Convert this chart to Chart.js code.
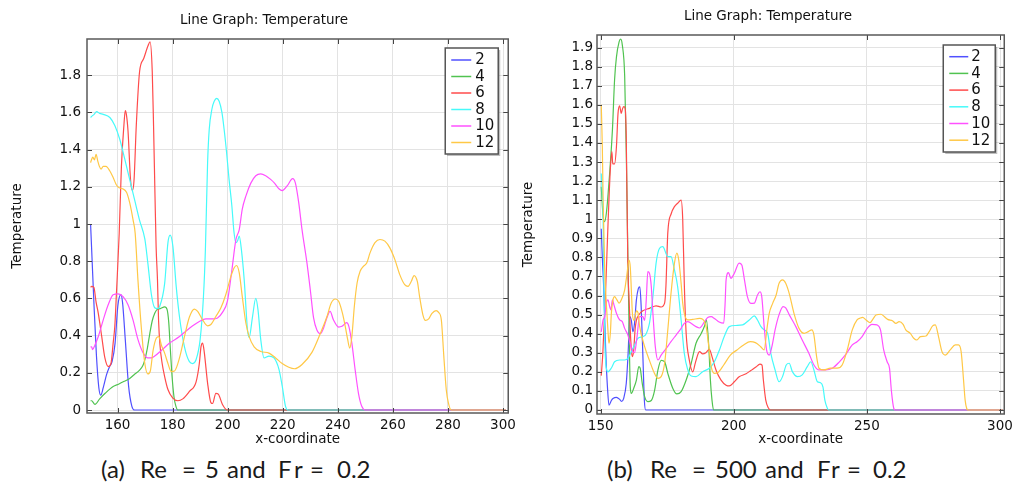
<!DOCTYPE html>
<html><head><meta charset="utf-8">
<script src="https://cdn.jsdelivr.net/npm/chart.js@4.4.1/dist/chart.umd.min.js"></script>
<style>
html,body{margin:0;padding:0;background:#fff;width:1017px;height:484px;overflow:hidden;}
canvas{position:absolute;top:0;}
#c1{left:0}
#c2{left:520px}
.cap{position:absolute;top:457px;font-family:Lato,'Open Sans',sans-serif;font-size:24px;line-height:24px;color:#1a1a1a;white-space:pre;}
</style></head><body>
<canvas id="c1" width="520" height="450"></canvas>
<canvas id="c2" width="497" height="450"></canvas>
<span class="cap" style="left:101px">(a)</span>
<span class="cap" style="left:140px">Re</span>
<span class="cap" style="left:182px">=</span>
<span class="cap" style="left:205px">5</span>
<span class="cap" style="left:227px">and</span>
<span class="cap" style="left:278px">F</span>
<span class="cap" style="left:294px">r</span>
<span class="cap" style="left:310px">=</span>
<span class="cap" style="left:337px">0.2</span>
<span class="cap" style="left:607px">(b)</span>
<span class="cap" style="left:650px">Re</span>
<span class="cap" style="left:692px">=</span>
<span class="cap" style="left:715px">500</span>
<span class="cap" style="left:765px">and</span>
<span class="cap" style="left:817px">F</span>
<span class="cap" style="left:831px">r</span>
<span class="cap" style="left:847px">=</span>
<span class="cap" style="left:873px">0.2</span>
<script>
// ---------- data ----------
const seriesLabels = ['2','4','6','8','10','12'];
const titleText = 'Line Graph: Temperature';
const xTitleText = 'x-coordinate';
const yTitleText = 'Temperature';

const leftXTicks = [160,180,200,220,240,260,280,300];
const leftXLabels = ['160','180','200','220','240','260','280','300'];
const leftYTicks = [0,0.2,0.4,0.6,0.8,1,1.2,1.4,1.6,1.8];
const leftYLabels = ['0','0.2','0.4','0.6','0.8','1','1.2','1.4','1.6','1.8'];
const rightXTicks = [150,200,250,300];
const rightXLabels = ['150','200','250','300'];
const rightYTicks = [0,0.1,0.2,0.3,0.4,0.5,0.6,0.7,0.8,0.9,1,1.1,1.2,1.3,1.4,1.5,1.6,1.7,1.8,1.9];
const rightYLabels = ['0','0.1','0.2','0.3','0.4','0.5','0.6','0.7','0.8','0.9','1','1.1','1.2','1.3','1.4','1.5','1.6','1.7','1.8','1.9'];

// (a) Re = 5
const a2 = [[150.2,1.0],[150.6,0.86],[151.4,0.58],[152.3,0.3],[153.2,0.12],[153.9,0.08],[154.8,0.12],[156,0.19],[157,0.23],[158,0.26],[159.1,0.36],[160.1,0.56],[161.2,0.62],[161.8,0.58],[162.8,0.38],[164,0.13],[165.2,0.02],[166.2,0],[301,0]];
const a4 = [[150.2,0.05],[150.6,0.05],[151.8,0.03],[153.5,0.06],[155.5,0.09],[158.4,0.126],[160.5,0.14],[162.5,0.155],[164.4,0.17],[166,0.19],[168,0.215],[169.2,0.24],[169.9,0.27],[170.8,0.33],[171.7,0.41],[172.6,0.48],[173.5,0.52],[174.3,0.54],[175.5,0.545],[177.1,0.555],[178,0.54],[178.6,0.47],[179.2,0.32],[179.8,0.18],[180.5,0.07],[181.2,0.02],[181.9,0],[301,0]];
const a6 = [[150.2,0.66],[150.6,0.665],[151.4,0.66],[152.2,0.58],[153,0.52],[154.2,0.4],[155.4,0.28],[156.6,0.234],[157.6,0.25],[158.4,0.36],[159,0.45],[159.6,0.63],[160.6,0.95],[161.4,1.31],[162.3,1.53],[162.8,1.61],[163.2,1.59],[163.8,1.5],[164.7,1.24],[165.4,1.18],[166,1.24],[166.8,1.53],[168,1.82],[169.5,1.89],[171.1,1.96],[171.8,1.98],[172.6,1.82],[173.1,1.51],[173.6,1.15],[174,0.88],[174.5,0.7],[174.9,0.48],[175.4,0.35],[176.2,0.25],[177.1,0.18],[178.3,0.11],[180,0.065],[181.9,0.05],[183.7,0.06],[186.1,0.1],[188.5,0.15],[189.7,0.25],[190.3,0.34],[190.9,0.36],[191.5,0.31],[192.7,0.145],[193.9,0.04],[194.5,0.035],[195.7,0.09],[196.6,0.085],[198.1,0.03],[199.9,0],[301,0]];
const a8 = [[150.2,1.573],[150.6,1.579],[151.5,1.59],[152.4,1.604],[153.5,1.595],[154.8,1.59],[157.2,1.573],[159,1.53],[160.8,1.456],[162.6,1.35],[164.4,1.24],[166.2,1.13],[168,1.02],[169.9,0.92],[171,0.79],[172.3,0.62],[173.5,0.55],[174.5,0.545],[175.3,0.557],[177.1,0.68],[178.3,0.9],[179.1,0.94],[180.1,0.88],[181.3,0.665],[182.5,0.5],[184.3,0.34],[186.1,0.26],[187.3,0.25],[188.5,0.27],[190,0.38],[191.2,0.61],[191.9,0.86],[192.7,1.33],[193.3,1.51],[194.3,1.62],[195.1,1.66],[196,1.676],[196.9,1.66],[197.9,1.6],[198.7,1.51],[199.6,1.385],[200.5,1.24],[201.5,1.1],[202.3,0.955],[203,0.9],[203.6,0.91],[204.2,0.935],[205,0.86],[206,0.7],[207.2,0.43],[207.8,0.39],[209,0.5],[210.2,0.6],[211,0.54],[212,0.38],[213.2,0.28],[215,0.29],[216.8,0.28],[218.6,0.22],[219.8,0.13],[221,0.02],[222,0],[301,0]];
const a10 = [[150.2,0.34],[150.6,0.34],[150.9,0.325],[151.8,0.35],[153,0.395],[154.8,0.485],[156.6,0.566],[158.4,0.62],[160.2,0.625],[162,0.61],[163.8,0.566],[165.6,0.485],[167.4,0.38],[169.2,0.31],[171,0.28],[172.2,0.28],[173.5,0.29],[175.9,0.32],[178.9,0.36],[182.5,0.395],[186.1,0.44],[189.7,0.476],[192.1,0.49],[194.5,0.49],[196.3,0.495],[198.1,0.525],[199.9,0.585],[201.5,0.75],[203,0.917],[204.2,0.97],[205.3,1.08],[206.6,1.15],[208.4,1.22],[210.2,1.26],[212,1.27],[213.8,1.26],[215.6,1.24],[217,1.22],[218.6,1.19],[219.8,1.18],[221.6,1.205],[223.6,1.244],[224.6,1.22],[225.8,1.115],[227,0.97],[228.8,0.79],[230,0.647],[231.2,0.495],[232.4,0.43],[233.6,0.41],[234.8,0.44],[236,0.495],[237.2,0.53],[238.4,0.485],[240.3,0.446],[241.5,0.45],[243.2,0.47],[244,0.45],[245.1,0.36],[246.3,0.216],[247.5,0.09],[248.7,0.02],[250,0],[301,0]];
const a12 = [[150.2,1.33],[150.4,1.34],[151,1.36],[151.6,1.345],[152.2,1.375],[152.8,1.34],[153.4,1.31],[154,1.295],[154.8,1.31],[155.8,1.31],[157.2,1.285],[158.4,1.25],[159.6,1.21],[160.6,1.195],[161.8,1.19],[163.3,1.17],[164.4,1.115],[165.6,1.025],[166.4,0.95],[167.4,0.7],[168.7,0.43],[169.9,0.25],[171,0.194],[171.9,0.21],[172.9,0.32],[174.1,0.387],[175,0.395],[175.9,0.35],[177.1,0.306],[178.3,0.25],[179.5,0.207],[180.7,0.21],[182.5,0.28],[184.3,0.395],[186.1,0.5],[187.9,0.543],[189.1,0.53],[190.9,0.485],[192.7,0.453],[193.9,0.46],[195.7,0.503],[197.5,0.548],[199.3,0.62],[201.2,0.72],[202.3,0.764],[203.2,0.777],[204.2,0.737],[205.3,0.61],[206.6,0.468],[207.8,0.395],[209.6,0.34],[212,0.315],[215,0.306],[217.4,0.28],[219.8,0.25],[222.2,0.23],[224.3,0.222],[227,0.245],[230.6,0.31],[233.6,0.41],[236,0.5],[237.6,0.575],[239.1,0.597],[240.3,0.585],[241.7,0.52],[242.7,0.45],[243.6,0.378],[244.3,0.333],[245.1,0.395],[246,0.557],[247,0.683],[248.1,0.746],[249.3,0.773],[250.5,0.79],[251.7,0.845],[253.5,0.9],[255.3,0.917],[257.1,0.908],[258.9,0.872],[260.7,0.81],[262.5,0.728],[264.3,0.674],[265.5,0.665],[266.7,0.692],[267.7,0.723],[268.9,0.69],[269.7,0.61],[270.9,0.512],[271.8,0.482],[273,0.49],[274.2,0.52],[275.7,0.535],[276.6,0.525],[277.6,0.485],[278.5,0.29],[279.4,0.108],[280.2,0.036],[281.2,0],[301,0]];

// (b) Re = 500
const b2 = [[150.2,0.95],[150.6,0.8],[151.1,0.647],[151.9,0.3],[152.5,0.126],[153.1,0.025],[154,0.05],[154.6,0.06],[155.9,0.066],[157.1,0.056],[157.8,0.045],[158.6,0.06],[159.6,0.14],[160.3,0.3],[160.9,0.49],[161.5,0.47],[162.1,0.41],[162.7,0.455],[163.4,0.577],[164.1,0.635],[164.7,0.645],[165.2,0.54],[165.8,0.3],[166.4,0.05],[166.9,0],[301,0]];
const b4 = [[150.2,1.17],[150.9,1.014],[151.5,0.988],[152.1,1.03],[152.7,1.12],[154.4,1.47],[155.2,1.73],[155.9,1.85],[156.9,1.93],[157.5,1.944],[158.1,1.914],[159,1.75],[159.6,1.35],[160.2,0.8],[160.6,0.47],[161.1,0.12],[161.5,0.087],[162.4,0.114],[163.4,0.157],[164.3,0.227],[164.8,0.22],[165.6,0.14],[166.5,0.07],[167.7,0.044],[169,0.05],[170.2,0.1],[171.5,0.21],[172.7,0.26],[174,0.253],[175.2,0.192],[177.1,0.113],[178.6,0.084],[180.2,0.096],[182.1,0.157],[184,0.245],[185.8,0.35],[187.7,0.4],[189,0.44],[189.7,0.472],[190.6,0.33],[191.2,0.157],[191.8,0.052],[192.4,0],[301,0]];
const b6 = [[150.2,0.18],[150.8,0.3],[151.9,0.65],[152.7,0.96],[153.6,1.26],[154.2,1.355],[154.5,1.29],[155.2,1.29],[155.9,1.38],[156.5,1.555],[157.1,1.594],[157.7,1.555],[158.2,1.58],[158.7,1.59],[159.2,1.58],[159.6,1.42],[160.2,0.75],[160.6,0.6],[161.1,0.42],[161.5,0.315],[161.9,0.28],[162.4,0.315],[162.9,0.42],[163.4,0.47],[164.3,0.498],[165.8,0.52],[168.3,0.533],[170.8,0.546],[172.7,0.54],[174,0.56],[174.5,0.65],[175.2,0.93],[176.5,1.03],[177.7,1.066],[178.9,1.084],[180.2,1.1],[180.8,1.0],[181.4,0.66],[182.1,0.4],[183.3,0.26],[184.6,0.2],[185.6,0.25],[187.1,0.306],[188.3,0.294],[189.5,0.3],[190.8,0.318],[191.8,0.28],[193.3,0.21],[195.2,0.157],[197.1,0.13],[198.3,0.126],[200.2,0.148],[202,0.174],[204.6,0.19],[206.4,0.207],[208.3,0.225],[209.8,0.24],[210.6,0.235],[211.1,0.157],[212,0.052],[213,0.01],[213.8,0],[301,0]];
const b8 = [[150.2,1.24],[150.6,1.135],[150.9,1.0],[151.2,0.65],[151.6,0.33],[152.1,0.22],[152.7,0.2],[154,0.22],[155.2,0.253],[157.1,0.262],[159,0.262],[160.2,0.27],[161.5,0.306],[162.7,0.34],[164,0.376],[165.8,0.384],[167.1,0.4],[168.3,0.454],[169.6,0.594],[170.8,0.77],[172.1,0.848],[173.3,0.857],[175.2,0.804],[176.4,0.804],[177.7,0.734],[178.9,0.646],[180.2,0.472],[181.4,0.297],[182.7,0.21],[184,0.178],[185.8,0.175],[188.3,0.201],[190.8,0.219],[192.7,0.253],[194.6,0.315],[196.4,0.385],[198.3,0.437],[200.8,0.443],[203.3,0.446],[205.8,0.472],[207.7,0.493],[208.9,0.472],[210.2,0.437],[211.4,0.42],[212.7,0.402],[213.9,0.297],[215.5,0.21],[217,0.148],[218.3,0.175],[219.7,0.236],[220.8,0.245],[222,0.201],[223.9,0.175],[225.7,0.184],[227.6,0.227],[228.9,0.253],[230.1,0.21],[231.4,0.148],[232.6,0.143],[233.5,0.12],[234.2,0.052],[235.1,0.01],[235.6,0],[301,0]];
const b10 = [[150.2,0.41],[150.9,0.472],[151.5,0.49],[152.1,0.56],[152.7,0.577],[153.4,0.54],[153.8,0.525],[154.4,0.577],[155,0.55],[155.9,0.507],[157.1,0.472],[158.1,0.463],[159,0.428],[160.2,0.393],[161.2,0.341],[162.1,0.306],[162.7,0.3],[163.6,0.38],[164.6,0.49],[165.8,0.49],[166.5,0.47],[167.1,0.577],[167.7,0.725],[168.3,0.717],[169,0.646],[169.6,0.507],[170.5,0.332],[171.5,0.262],[172.7,0.288],[174.6,0.323],[176.4,0.358],[178.3,0.393],[180.2,0.428],[181.4,0.454],[182.7,0.463],[184,0.454],[185.8,0.437],[187.1,0.43],[189,0.463],[190.2,0.485],[191.5,0.489],[192.7,0.48],[194.3,0.463],[196.2,0.455],[196.7,0.55],[197.1,0.682],[198,0.72],[198.9,0.69],[200.2,0.717],[202,0.77],[203,0.76],[204,0.682],[205.1,0.594],[206.4,0.559],[207.7,0.56],[208.9,0.603],[209.8,0.62],[210.5,0.594],[211.4,0.437],[212.3,0.315],[213.3,0.288],[214.3,0.332],[215.5,0.42],[217,0.5],[218.5,0.542],[219.5,0.535],[220.8,0.5],[223.3,0.437],[225.7,0.367],[228.2,0.297],[230.1,0.236],[232,0.21],[234.5,0.21],[237,0.219],[239.5,0.25],[242,0.29],[244.5,0.341],[246.3,0.358],[248.2,0.385],[250.1,0.428],[251.9,0.449],[253.8,0.446],[255.1,0.42],[256.3,0.315],[257.6,0.253],[258.5,0.218],[259.2,0.1],[260.1,0.008],[260.6,0],[301,0]];
const b12 = [[150.2,1.6],[150.6,1.38],[150.9,1.1],[151.5,0.734],[152.1,0.56],[152.7,0.42],[153.1,0.35],[153.6,0.4],[154,0.507],[154.6,0.577],[155.2,0.594],[156.1,0.577],[156.9,0.56],[157.7,0.577],[159,0.63],[159.9,0.717],[160.6,0.786],[161.1,0.75],[161.5,0.63],[161.9,0.507],[162.5,0.47],[163.4,0.52],[164,0.51],[164.6,0.44],[166.5,0.332],[168.3,0.26],[170.2,0.192],[171.5,0.166],[172.7,0.175],[174,0.245],[175.2,0.42],[176.4,0.611],[177.7,0.77],[178.6,0.822],[179.3,0.787],[180.2,0.664],[180.8,0.56],[181.4,0.507],[182.7,0.472],[184.6,0.475],[187.1,0.48],[188.3,0.476],[189.6,0.437],[190.6,0.332],[191.5,0.227],[192.7,0.192],[194,0.196],[196.2,0.236],[198.7,0.288],[201.2,0.315],[203.7,0.341],[206.2,0.358],[208.1,0.353],[210.1,0.332],[211.4,0.315],[212.4,0.42],[213.3,0.507],[214.6,0.559],[215.9,0.603],[217,0.664],[218.3,0.682],[219.5,0.664],[220.8,0.611],[222.6,0.507],[224.5,0.428],[226.4,0.402],[228,0.411],[229.3,0.42],[230.1,0.393],[231.1,0.28],[232,0.219],[233.8,0.21],[236.3,0.219],[238.8,0.219],[240.7,0.236],[242.6,0.315],[244.5,0.42],[246.3,0.472],[247.5,0.482],[248.4,0.486],[249.7,0.472],[251.2,0.458],[252.2,0.475],[253.4,0.498],[255.3,0.502],[256.5,0.49],[257.8,0.475],[259.6,0.468],[260.9,0.454],[262.1,0.463],[263.6,0.449],[264.6,0.42],[266.3,0.402],[267.6,0.376],[268.8,0.367],[270.1,0.385],[272.2,0.388],[273.4,0.411],[274.7,0.441],[275.7,0.446],[276.9,0.385],[278.2,0.306],[279.4,0.288],[281.3,0.315],[283.2,0.341],[284.4,0.341],[285.4,0.306],[286.3,0.158],[286.9,0.052],[287.5,0.008],[288,0],[301,0]];

// ---------- styling ----------
const colors = ['rgb(80,80,255)','rgb(80,195,80)','rgb(255,75,75)','rgb(70,250,250)','rgb(255,80,255)','rgb(255,200,70)'];
const FONT = "'DejaVu Sans', sans-serif";

const framePlugin = {
  id: 'frame',
  afterDatasetsDraw(chart, args, o) {
    const ctx = chart.ctx, a = chart.chartArea, xs = chart.scales.x, ys = chart.scales.y;
    ctx.save();
    ctx.strokeStyle = '#444'; ctx.lineWidth = 1;
    ctx.beginPath();
    xs.ticks.forEach(t => { const p = Math.round(xs.getPixelForValue(t.value)) + 0.5;
      ctx.moveTo(p, a.bottom); ctx.lineTo(p, a.bottom - 5); ctx.moveTo(p, a.top); ctx.lineTo(p, a.top + 5); });
    ys.ticks.forEach(t => { const p = Math.round(ys.getPixelForValue(t.value)) + 0.5;
      ctx.moveTo(a.left, p); ctx.lineTo(a.left + 5, p); ctx.moveTo(a.right, p); ctx.lineTo(a.right - 5, p); });
    ctx.stroke();
    ctx.strokeStyle = '#5a5a5a'; ctx.lineWidth = 1.5;
    ctx.strokeRect(a.left, a.top, a.right - a.left, a.bottom - a.top);
    // legend
    const L = o.legend;
    const bx = a.right - L.inset - L.w, by = a.top + L.top;
    ctx.fillStyle = 'rgba(0,0,0,0.25)';
    ctx.fillRect(bx + 2, by + 2, L.w, L.h);
    ctx.fillStyle = '#fff';
    ctx.fillRect(bx, by, L.w, L.h);
    ctx.strokeStyle = '#555'; ctx.lineWidth = 1.5;
    ctx.strokeRect(bx, by, L.w, L.h);
    ctx.font = '15px ' + FONT; ctx.textBaseline = 'middle'; ctx.textAlign = 'left';
    chart.data.datasets.forEach((d, i) => {
      const yy = by + L.first + i * L.step;
      ctx.strokeStyle = d.borderColor; ctx.lineWidth = 1.5;
      ctx.beginPath(); ctx.moveTo(bx + L.lx1, yy); ctx.lineTo(bx + L.lx2, yy); ctx.stroke();
      ctx.fillStyle = '#111'; ctx.fillText(d.label, bx + L.tx, yy + 0.5);
    });
    // titles
    ctx.fillStyle = '#111'; ctx.textAlign = 'center'; ctx.textBaseline = 'middle';
    ctx.font = '13.5px ' + FONT;
    ctx.fillText(titleText, o.title.x, o.title.y);
    ctx.fillText(xTitleText, (a.left + a.right) / 2, o.xTitleY);
    ctx.translate(o.yTitleX, (a.top + a.bottom) / 2);
    ctx.rotate(-Math.PI / 2);
    ctx.fillText(yTitleText, 0, 0);
    ctx.restore();
  }
};

function makeChart(id, series, g) {
  const datasets = series.map((s, i) => ({
    label: seriesLabels[i], data: s, borderColor: colors[i], borderWidth: 1.2,
    pointRadius: 0, cubicInterpolationMode: 'monotone', fill: false, order: series.length - i
  }));
  return new Chart(document.getElementById(id), {
    type: 'line',
    data: { datasets },
    options: {
      responsive: false, animation: false, parsing: true,
      layout: { padding: g.pad },
      plugins: { legend: { display: false }, tooltip: { enabled: false }, frame: g.plug },
      scales: {
        x: {
          type: 'linear', min: g.xr[0], max: g.xr[1],
          afterFit: s => { s.height = 30; },
          afterBuildTicks: s => { s.ticks = g.xt.map(v => ({ value: v })); },
          ticks: { autoSkip: false, maxRotation: 0, padding: 4, color: '#111', font: { family: FONT, size: 13.5 },
            callback: (v, i) => g.xl[i] },
          grid: { color: '#e3e3e3', drawTicks: false }, border: { display: false }
        },
        y: {
          type: 'linear', min: g.yr[0], max: g.yr[1],
          afterFit: s => { s.width = g.yw; },
          afterBuildTicks: s => { s.ticks = g.yt.map(v => ({ value: v })); },
          ticks: { autoSkip: false, padding: g.ypad, color: '#111', font: { family: FONT, size: 13.5 },
            callback: (v, i) => g.yl[i] },
          grid: { color: '#e3e3e3', drawTicks: false }, border: { display: false }
        }
      }
    },
    plugins: [framePlugin]
  });
}

makeChart('c1', [a2, a4, a6, a8, a10, a12], {
  pad: { left: 0, right: 9, top: 39, bottom: 7 }, yw: 87, ypad: 6,
  xr: [148.9, 301.9], yr: [-0.016, 1.995],
  xt: leftXTicks, xl: leftXLabels, yt: leftYTicks, yl: leftYLabels,
  plug: { title: { x: 264, y: 20 }, xTitleY: 439, yTitleX: 17,
    legend: { w: 53, h: 106, inset: 10, top: 9, first: 12, step: 16.5, lx1: 6, lx2: 26, tx: 30 } }
});
makeChart('c2', [b2, b4, b6, b8, b10, b12], {
  pad: { left: 0, right: 11, top: 35, bottom: 6 }, yw: 77, ypad: 4,
  xr: [148.6, 301.6], yr: [-0.021, 1.966],
  xt: rightXTicks, xl: rightXLabels, yt: rightYTicks, yl: rightYLabels,
  plug: { title: { x: 248, y: 16 }, xTitleY: 439, yTitleX: 8,
    legend: { w: 52, h: 107, inset: 9, top: 10, first: 11.7, step: 16.7, lx1: 6, lx2: 25, tx: 28 } }
});
</script>
</body></html>
